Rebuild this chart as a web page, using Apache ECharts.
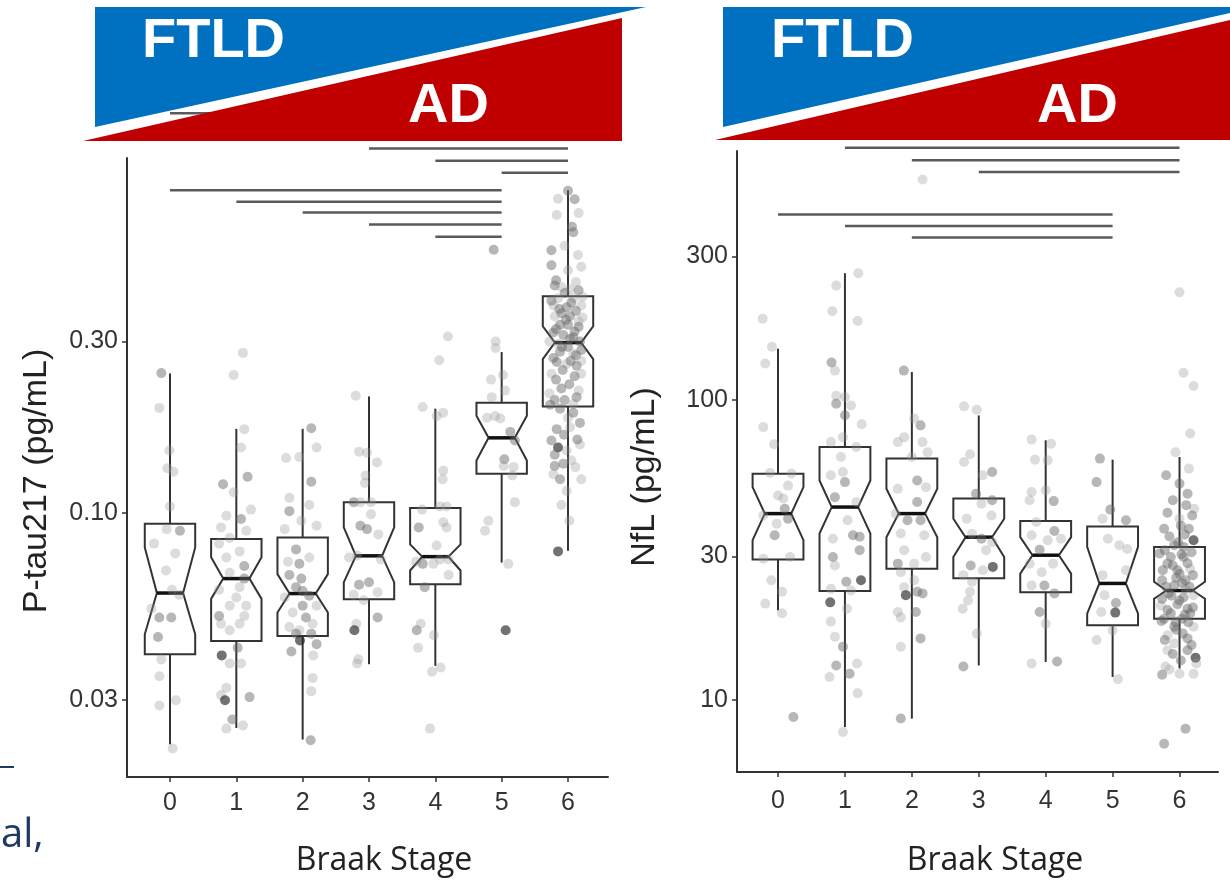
<!DOCTYPE html>
<html>
<head>
<meta charset="utf-8">
<script src="https://cdn.jsdelivr.net/npm/echarts@6/dist/echarts.min.js"></script>
<style>
  html, body { margin: 0; padding: 0; background: #fff; }
  #chart { width: 1230px; height: 880px; }
</style>
</head>
<body>
<div id="chart"></div>
<script>
// ---- data -------------------------------------------------------------
const stages = ['0', '1', '2', '3', '4', '5', '6'];
const ptauTicks = [0.03, 0.1, 0.3];
const nflTicks = [10, 30, 100, 300];

// per Braak stage: [whisker low, Q1, notch low, median, notch high, Q3, whisker high]
const ptauBoxes = [
  [0.0226, 0.0403, 0.0458, 0.0597, 0.0800, 0.0932, 0.2445],
  [0.0251, 0.0439, 0.0575, 0.0655, 0.0751, 0.0844, 0.1713],
  [0.0233, 0.0453, 0.0527, 0.0595, 0.0674, 0.0853, 0.1713],
  [0.0378, 0.0574, 0.0639, 0.0758, 0.0910, 0.1069, 0.2110],
  [0.0374, 0.0632, 0.0690, 0.0754, 0.0816, 0.1030, 0.1950],
  [0.0726, 0.1283, 0.1397, 0.1617, 0.1863, 0.2025, 0.2805],
  [0.0783, 0.1977, 0.2680, 0.2980, 0.3310, 0.4013, 0.7930]
];
const nflBoxes = [
  [19.85, 29.29, 34.0, 41.7, 51.1, 56.66, 147.9],
  [8.1, 23.0, 35.8, 43.85, 53.8, 69.5, 264],
  [8.64, 27.3, 34.8, 41.7, 50.5, 63.6, 123.6],
  [13.0, 25.4, 29.9, 34.8, 40.1, 46.8, 88.6],
  [13.35, 22.8, 26.3, 30.3, 34.8, 39.4, 73.2],
  [11.9, 17.7, 19.35, 24.4, 32.3, 37.8, 63.1],
  [12.7, 18.6, 21.7, 23.1, 24.7, 32.3, 64.4]
];

// pairwise comparisons: [stage from, stage to, bracket height]
const ptauBrackets = [
  [0, 6, 1.30], [3, 6, 1.037], [4, 6, 0.958], [5, 6, 0.887],
  [0, 5, 0.793], [1, 5, 0.736], [2, 5, 0.687], [3, 5, 0.636], [4, 5, 0.588]
];
const nflBrackets = [
  [1, 6, 692], [2, 6, 628], [3, 6, 574],
  [0, 5, 414], [1, 5, 379], [2, 5, 347]
];

// individual cases: [stage, jitter, value, group]
const ptauPoints = [
  [0,-0.13,0.245,1],[0,-0.16,0.196,0],[0,-0.01,0.149,0],[0,-0.04,0.133,0],[0,0.05,0.130,0],[0,0.00,0.104,0],
  [0,0.15,0.089,1],[0,-0.05,0.090,0],[0,-0.24,0.082,0],[0,0.08,0.077,0],[0,-0.06,0.069,0],[0,0.03,0.061,0],
  [0,0.14,0.059,0],[0,-0.28,0.054,0],[0,-0.16,0.051,1],[0,0.02,0.051,1],[0,-0.18,0.045,1],[0,-0.13,0.039,0],
  [0,-0.16,0.035,0],[0,-0.16,0.029,0],[0,0.09,0.030,0],[0,0.04,0.022,0],
  [1,0.10,0.279,0],[1,-0.04,0.242,0],[1,0.12,0.171,0],[1,0.07,0.152,0],[1,-0.20,0.120,1],[1,0.17,0.126,1],
  [1,-0.04,0.114,0],[1,0.22,0.102,0],[1,-0.15,0.098,0],[1,0.07,0.096,1],[1,-0.23,0.091,0],[1,0.15,0.089,0],
  [1,-0.10,0.085,0],[1,-0.26,0.082,0],[1,0.05,0.078,0],[1,-0.15,0.075,0],[1,0.12,0.071,1],[1,-0.10,0.068,0],
  [1,0.12,0.0655,1],[1,-0.26,0.061,0],[1,0.05,0.062,0],[1,0.00,0.058,0],[1,-0.10,0.055,0],[1,0.15,0.055,0],
  [1,-0.26,0.0515,1],[1,0.12,0.0515,0],[1,-0.23,0.049,0],[1,0.05,0.049,0],[1,-0.10,0.047,0],[1,0.02,0.042,1],
  [1,-0.22,0.040,2],[1,0.07,0.038,0],[1,-0.10,0.038,0],[1,-0.15,0.0325,0],[1,-0.23,0.031,0],[1,-0.17,0.030,2],
  [1,0.20,0.0306,1],[1,-0.06,0.0265,1],[1,-0.15,0.025,0],[1,0.10,0.0255,0],
  [2,0.13,0.172,1],[2,0.21,0.152,0],[2,-0.25,0.142,0],[2,-0.05,0.143,0],[2,0.13,0.122,1],[2,-0.20,0.110,0],
  [2,0.10,0.105,0],[2,-0.20,0.101,1],[2,-0.02,0.095,0],[2,0.21,0.092,0],[2,-0.27,0.090,0],[2,-0.10,0.079,1],
  [2,-0.22,0.073,0],[2,-0.05,0.072,1],[2,0.10,0.075,0],[2,-0.20,0.067,1],[2,-0.02,0.0655,1],[2,-0.10,0.062,1],
  [2,0.00,0.0605,1],[2,0.10,0.0587,1],[2,-0.27,0.058,0],[2,0.21,0.055,0],[2,0.00,0.055,1],[2,-0.15,0.0527,0],
  [2,0.05,0.051,1],[2,0.15,0.049,0],[2,-0.20,0.048,0],[2,-0.05,0.047,0],[2,0.13,0.046,1],[2,-0.10,0.046,1],
  [2,-0.04,0.044,2],[2,-0.17,0.041,1],[2,0.21,0.043,1],[2,0.16,0.040,0],[2,0.15,0.0346,0],[2,0.13,0.0318,0],
  [2,0.12,0.0232,1],
  [3,-0.20,0.212,0],[3,-0.15,0.148,0],[3,-0.03,0.147,0],[3,0.12,0.138,0],[3,-0.05,0.127,0],[3,-0.06,0.121,0],
  [3,-0.23,0.107,1],[3,-0.13,0.107,0],[3,0.03,0.107,0],[3,0.03,0.099,0],[3,-0.13,0.092,1],[3,-0.03,0.090,1],
  [3,0.14,0.087,0],[3,-0.30,0.075,0],[3,-0.18,0.076,0],[3,0.18,0.074,0],[3,-0.15,0.063,1],[3,0.00,0.064,1],
  [3,-0.23,0.059,0],[3,0.13,0.060,0],[3,-0.08,0.057,0],[3,-0.19,0.049,0],[3,-0.22,0.047,2],[3,0.13,0.051,1],
  [3,-0.16,0.039,0],[3,-0.18,0.038,0],
  [4,0.19,0.310,0],[4,0.06,0.266,0],[4,-0.19,0.197,0],[4,0.12,0.190,0],[4,0.02,0.186,0],[4,0.12,0.131,0],
  [4,0.11,0.124,0],[4,-0.20,0.102,0],[4,0.17,0.104,0],[4,0.07,0.104,0],[4,-0.25,0.091,1],[4,0.12,0.094,0],
  [4,0.17,0.091,0],[4,0.02,0.081,0],[4,-0.29,0.073,0],[4,-0.19,0.072,1],[4,-0.03,0.072,0],[4,0.07,0.074,0],
  [4,0.20,0.074,0],[4,0.20,0.067,0],[4,-0.16,0.062,1],[4,-0.28,0.047,1],[4,-0.22,0.049,0],[4,-0.26,0.042,0],
  [4,-0.02,0.0455,0],[4,-0.05,0.036,0],[4,0.08,0.037,0],[4,-0.08,0.025,0],
  [5,-0.12,0.541,1],[5,-0.09,0.300,0],[5,-0.09,0.288,0],[5,0.02,0.242,0],[5,-0.16,0.235,0],[5,0.05,0.219,0],
  [5,-0.15,0.210,0],[5,-0.22,0.184,0],[5,-0.10,0.186,0],[5,-0.02,0.183,0],[5,0.13,0.168,1],[5,0.20,0.159,1],
  [5,0.04,0.141,1],[5,0.03,0.135,0],[5,0.18,0.134,0],[5,0.16,0.127,0],[5,0.20,0.107,0],[5,-0.20,0.095,0],
  [5,-0.25,0.089,0],[5,0.10,0.072,0],[5,0.06,0.047,2],
  [6,0.00,0.79,1],[6,-0.15,0.75,0],[6,0.10,0.748,1],[6,-0.17,0.676,0],[6,0.16,0.685,0],[6,0.06,0.627,1],
  [6,0.08,0.605,1],[6,-0.25,0.539,1],[6,-0.05,0.555,0],[6,0.15,0.523,0],[6,-0.25,0.49,1],[6,0.20,0.485,0],
  [6,0.00,0.474,0],[6,-0.20,0.43,1],[6,-0.10,0.426,0],[6,0.03,0.42,0],[6,0.16,0.417,1],[6,-0.15,0.396,0],
  [6,0.08,0.396,0],[6,-0.22,0.378,0],[6,-0.02,0.374,1],[6,0.20,0.378,0],[6,-0.10,0.36,1],[6,-0.20,0.353,0],
  [6,0.03,0.353,1],[6,0.16,0.342,0],[6,-0.12,0.334,1],[6,0.00,0.334,1],[6,-0.22,0.318,1],[6,0.16,0.33,1],
  [6,-0.07,0.313,1],[6,0.08,0.309,1],[6,0.20,0.284,1],[6,0.00,0.29,1],[6,-0.15,0.296,0],[6,-0.12,0.281,1],
  [6,0.08,0.278,0],[6,-0.17,0.263,1],[6,-0.02,0.26,0],[6,0.13,0.257,1],[6,-0.25,0.244,0],[6,0.20,0.244,0],
  [6,-0.10,0.222,1],[6,0.16,0.219,0],[6,-0.20,0.206,1],[6,-0.05,0.206,1],[6,0.08,0.201,0],[6,-0.27,0.200,1],
  [6,0.00,0.184,0],[6,0.18,0.178,1],[6,-0.17,0.171,1],[6,0.03,0.173,0],[6,-0.25,0.159,1],[6,-0.15,0.152,2],
  [6,0.18,0.155,0],[6,-0.02,0.149,0],[6,-0.20,0.135,1],[6,-0.07,0.137,1],[6,0.11,0.134,0],[6,-0.22,0.128,0],
  [6,-0.12,0.124,1],[6,0.20,0.124,0],[6,-0.02,0.115,0],[6,-0.15,0.078,2],
  [6,-0.18,0.445,1],[6,0.12,0.44,0],[6,-0.05,0.41,1],[6,0.22,0.40,0],[6,-0.25,0.39,1],[6,0.05,0.385,1],
  [6,-0.13,0.37,1],[6,0.12,0.365,1],[6,-0.03,0.345,1],[6,0.22,0.35,0],[6,-0.18,0.325,1],[6,0.10,0.32,1],
  [6,-0.28,0.30,0],[6,0.03,0.305,1],[6,0.18,0.30,1],[6,-0.09,0.29,1],[6,0.12,0.275,1],[6,-0.22,0.27,1],
  [6,0.04,0.265,1],[6,0.20,0.265,0],[6,-0.08,0.25,1],[6,0.10,0.24,1],[6,-0.18,0.235,1],[6,0.02,0.228,1],
  [6,-0.28,0.215,0],[6,0.13,0.21,1],[6,-0.12,0.195,1],[6,0.08,0.19,1],[6,-0.06,0.165,1],[6,0.14,0.16,1],
  [6,-0.20,0.145,1],[6,0.05,0.14,0],[6,-0.10,0.105,0],[6,0.02,0.095,0]
];

const nflPoints = [
  [0,-0.23,186,0],[0,-0.09,150,0],[0,-0.19,132,0],[0,-0.22,81,0],[0,-0.06,71,0],[0,-0.12,57,0],
  [0,0.20,56.7,0],[0,0.15,51.7,0],[0,0.00,47.9,0],[0,0.08,46.8,0],[0,0.10,43.3,1],[0,-0.22,41.1,0],
  [0,0.15,40.1,1],[0,-0.02,38.6,0],[0,-0.05,35.3,1],[0,-0.22,29.5,0],[0,0.18,29.9,0],[0,-0.10,25,0],
  [0,0.06,22.9,0],[0,-0.19,20.9,0],[0,0.06,19.4,0],[0,0.23,8.75,1],
  [1,0.20,264,0],[1,-0.13,240,0],[1,-0.19,197,0],[1,0.19,183,0],[1,-0.20,133,1],[1,-0.15,125,0],
  [1,-0.13,103,0],[1,0.00,102,0],[1,0.09,95.7,0],[1,-0.13,97,1],[1,0.00,88.7,1],[1,0.25,82.8,0],
  [1,-0.03,75,0],[1,-0.21,72.2,0],[1,0.17,69.5,0],[1,-0.06,64.4,0],[1,-0.21,56,0],[1,-0.03,57.4,0],
  [1,0.00,53.1,1],[1,-0.15,47.3,1],[1,0.17,45.6,0],[1,0.04,39.6,0],[1,-0.18,34.4,0],[1,0.12,35.3,1],
  [1,0.22,34.9,1],[1,0.22,31.5,1],[1,-0.18,29.9,1],[1,-0.15,28,0],[1,0.24,25,2],[1,0.02,24.7,1],
  [1,-0.21,23.4,0],[1,0.09,23.1,0],[1,-0.22,21.1,2],[1,0.03,20.1,0],[1,-0.21,18.2,0],[1,-0.15,16.2,0],
  [1,-0.03,15,1],[1,-0.13,13,1],[1,-0.23,11.9,0],[1,0.07,12.2,1],[1,0.18,13.2,0],[1,0.19,10.5,0],
  [1,-0.03,7.8,0],
  [2,0.16,542,0],[2,-0.12,125,1],[2,0.035,86.5,0],[2,0.13,82.1,1],[2,-0.21,72.2,0],[2,-0.115,75,0],
  [2,0.16,72.2,0],[2,0.235,66.8,0],[2,0.00,64.4,0],[2,0.08,53.8,1],[2,-0.21,50.5,0],[2,0.21,51.1,0],
  [2,0.08,45.6,1],[2,-0.24,41.7,0],[2,-0.065,39.6,1],[2,0.13,39.6,1],[2,-0.165,35.8,0],[2,0.185,35.3,0],
  [2,-0.115,31.5,0],[2,0.21,29.9,0],[2,-0.21,28.4,1],[2,0.035,28.4,0],[2,-0.165,26.6,0],[2,0.035,25,0],
  [2,-0.115,23.7,0],[2,0.08,22.9,1],[2,-0.09,22.3,2],[2,0.16,22.6,1],[2,0.06,19.6,1],[2,-0.21,19.6,0],
  [2,-0.165,18.8,0],[2,0.13,16,1],[2,-0.165,15,0],[2,-0.165,8.65,1],
  [3,-0.22,95,0],[3,-0.03,92.6,0],[3,-0.13,65.8,0],[3,-0.22,62,0],[3,0.06,56,0],[3,0.20,57.4,1],
  [3,-0.04,48.6,1],[3,0.20,46.2,1],[3,0.04,45,0],[3,-0.18,40.1,0],[3,0.19,41.1,0],[3,-0.10,35.7,0],
  [3,0.04,34.4,1],[3,0.20,33.5,0],[3,0.11,31.5,0],[3,-0.12,28,1],[3,0.21,27.7,2],[3,0.06,27,0],
  [3,-0.23,26,0],[3,-0.10,24.7,0],[3,-0.13,22.9,0],[3,-0.16,21.4,0],[3,-0.24,20.1,0],[3,-0.03,16.6,0],
  [3,-0.23,12.9,1],
  [4,-0.21,73.6,0],[4,0.08,71.3,0],[4,-0.16,63.1,0],[4,0.03,62.8,0],[4,-0.21,49.2,0],[4,-0.24,46.2,0],
  [4,0.00,49.9,0],[4,0.12,45.9,1],[4,-0.14,39.1,0],[4,0.13,36.5,1],[4,-0.21,35.3,0],[4,0.03,34,0],
  [4,0.23,34.4,0],[4,-0.09,31.6,1],[4,0.11,28.4,0],[4,-0.24,28.4,0],[4,-0.06,26.6,0],[4,-0.21,24,0],
  [4,-0.02,24,1],[4,0.13,22.6,1],[4,-0.09,19.6,1],[4,0.00,17.9,0],[4,-0.21,13.2,0],[4,0.17,13.4,1],
  [5,-0.19,63.6,1],[5,-0.24,53.1,1],[5,-0.035,43,1],[5,-0.15,40.1,0],[5,0.20,39.6,1],[5,-0.07,34.4,0],
  [5,0.10,32.7,0],[5,0.22,31.8,0],[5,0.20,27,0],[5,-0.15,26,0],[5,-0.12,22.3,0],[5,0.05,21,1],
  [5,0.04,19.5,2],[5,-0.17,19.6,0],[5,0.00,17,0],[5,-0.24,15.8,0],[5,0.08,11.7,0],
  [6,0.00,228,0],[6,0.06,123,0],[6,0.21,111,0],[6,0.16,77.1,0],[6,-0.06,66.8,0],[6,0.14,58.9,0],
  [6,-0.20,56,1],[6,0.00,52.5,1],[6,0.12,48.6,1],[6,-0.10,46.2,1],[6,0.22,43.3,0],[6,0.00,40.1,0],
  [6,0.19,41.1,1],[6,-0.23,37.1,1],[6,0.14,37.1,1],[6,0.21,34,2],[6,-0.08,32.7,1],[6,0.06,32.3,1],
  [6,-0.30,30.7,1],[6,-0.18,28.4,1],[6,0.00,26.3,1],[6,0.16,27.3,0],[6,-0.26,25,1],[6,-0.08,24,1],
  [6,0.09,23.4,0],[6,-0.16,22.6,1],[6,0.21,22.3,0],[6,0.00,21.4,1],[6,-0.28,20.6,0],[6,0.12,20.1,1],
  [6,-0.13,19.4,1],[6,-0.23,18.6,1],[6,0.04,18.6,1],[6,-0.08,17.5,1],[6,0.21,17.5,0],[6,-0.18,16.4,0],
  [6,0.12,16,1],[6,-0.08,15.4,0],[6,-0.18,14.6,0],[6,0.12,14.6,1],[6,0.24,13.8,2],[6,-0.21,12.9,0],
  [6,-0.26,12.1,1],[6,0.00,12.2,0],[6,0.21,12.2,0],[6,0.09,8.0,1],[6,-0.23,7.13,1],[6,-0.13,29.9,1],
  [6,0.06,29.9,1],[6,-0.03,27,1],[6,0.09,25,1],[6,-0.26,21.7,1],[6,0.16,19.4,1],[6,-0.06,18.2,1],
  [6,-0.15,35,1],[6,0.08,35.5,1],[6,-0.02,33.5,1],[6,0.18,31,1],[6,-0.22,31.5,1],[6,0.03,30.5,1],
  [6,-0.10,28,1],[6,0.12,28.5,1],[6,-0.25,27,1],[6,0.20,26,1],[6,-0.05,25.5,1],[6,0.04,24.5,1],
  [6,-0.20,23.8,1],[6,0.15,23.8,1],[6,-0.12,22.2,1],[6,0.06,21.9,1],[6,-0.03,20.8,1],[6,0.20,20.3,1],
  [6,-0.18,19.9,1],[6,0.08,19.2,1],[6,-0.27,18.3,1],[6,0.13,18.1,1],[6,-0.05,17.1,1],[6,0.05,16.6,1],
  [6,-0.22,15.8,1],[6,0.18,15.2,1],[6,-0.10,14.2,1],[6,0.02,13.5,1],[6,0.25,13.2,0],[6,-0.15,12.6,0],
  [6,0.10,44.5,1],[6,-0.18,42,1],[6,0.02,38,1]
];

// ---- drawing ----------------------------------------------------------
const lg = Math.log10;
const FONT = '"Liberation Sans", Arial, Helvetica, sans-serif';
const INK = '#333333';
const BOX_HALF = 0.38;        // half box width, in stage units
const NOTCH_RATIO = 0.52;     // notch waist relative to box width
const POINT_COLORS = ['rgba(150,150,150,0.42)', 'rgba(105,105,105,0.6)', 'rgba(35,35,35,0.8)'];

function boxSeries(idx, boxes) {
  return {
    type: 'custom', xAxisIndex: idx, yAxisIndex: idx, z: 3, silent: true,
    data: boxes.map((b, i) => [i].concat(b.map(lg))),
    encode: { x: 0, y: [1, 2, 3, 4, 5, 6, 7] },
    renderItem(params, api) {
      const s = api.value(0);
      const nh = BOX_HALF * NOTCH_RATIO;
      const p = (dx, k) => api.coord([s + dx, api.value(k)]);
      // value slots: 1 wLo, 2 q1, 3 nLo, 4 med, 5 nHi, 6 q3, 7 wHi
      const outline = [
        p(-BOX_HALF, 6), p(BOX_HALF, 6), p(BOX_HALF, 5), p(nh, 4), p(BOX_HALF, 3),
        p(BOX_HALF, 2), p(-BOX_HALF, 2), p(-BOX_HALF, 3), p(-nh, 4), p(-BOX_HALF, 5)
      ];
      const seg = (a, b, w, c) => ({
        type: 'line', shape: { x1: a[0], y1: a[1], x2: b[0], y2: b[1] },
        style: { stroke: c || INK, lineWidth: w }
      });
      return {
        type: 'group',
        children: [
          seg(p(0, 6), p(0, 7), 2),
          seg(p(0, 2), p(0, 1), 2),
          { type: 'polygon', shape: { points: outline },
            style: { fill: 'none', stroke: INK, lineWidth: 2, lineJoin: 'miter' } },
          seg(p(-nh, 4), p(nh, 4), 3.5, '#111')
        ]
      };
    }
  };
}

function pointSeries(idx, pts) {
  return {
    type: 'scatter', xAxisIndex: idx, yAxisIndex: idx, z: 4, silent: true,
    symbolSize: 10,
    data: pts.map(([s, j, v, g]) => [s + j, lg(v), g]),
    itemStyle: { color: (p) => POINT_COLORS[p.data[2]] }
  };
}

function bracketSeries(idx, brackets) {
  return {
    type: 'custom', xAxisIndex: idx, yAxisIndex: idx, z: 2, clip: false, silent: true,
    data: brackets.map(([a, b, y]) => [a, b, lg(y)]),
    encode: { x: [0, 1], y: 2 },
    renderItem(params, api) {
      const a = api.coord([api.value(0), api.value(2)]);
      const b = api.coord([api.value(1), api.value(2)]);
      return { type: 'line', shape: { x1: a[0], y1: a[1], x2: b[0], y2: b[1] },
               style: { stroke: '#5a5a5a', lineWidth: 2.5 } };
    }
  };
}

function xAxis(idx, min, max, margin) {
  return {
    gridIndex: idx, type: 'value', min, max,
    axisLine: { onZero: false, lineStyle: { color: INK, width: 2 } },
    axisTick: { length: 5, customValues: stages.map((_, i) => i), lineStyle: { color: INK, width: 1.5 } },
    axisLabel: { customValues: stages.map((_, i) => i), formatter: (v) => stages[Math.round(v)],
                 color: '#333', fontSize: 25, fontFamily: FONT, margin },
    splitLine: { show: false }
  };
}

function yAxis(idx, min, max, ticks, fmt) {
  return {
    gridIndex: idx, type: 'value', min, max,
    axisLine: { onZero: false, lineStyle: { color: INK, width: 2 } },
    axisTick: { length: 5, customValues: ticks.map(lg), lineStyle: { color: INK, width: 1.5 } },
    axisLabel: { customValues: ticks.map(lg), formatter: fmt,
                 color: '#333', fontSize: 25, fontFamily: FONT, margin: 9 },
    splitLine: { show: false }
  };
}

const BLUE = '#0070C0';
const RED = '#C00000';
const bannerText = (text, x, y) => ({
  type: 'text', x, y, z: 101,
  style: { text, fill: '#fff', fontSize: 56, fontWeight: 'bold', fontFamily: FONT, verticalAlign: 'middle' }
});
const title = (text, x, y, rot) => ({
  type: 'text', x, y, rotation: rot || 0, z: 50,
  style: { text, fill: '#222', fontSize: rot ? 34 : 32,
           fontFamily: rot ? FONT : '"Open Sans", ' + FONT,
           align: 'center', verticalAlign: 'middle' }
});

const option = {
  animation: false,
  backgroundColor: '#fff',
  grid: [
    { left: 127, top: 158, width: 481, height: 619, outerBoundsMode: 'none' },
    { left: 737, top: 151, width: 481, height: 621, outerBoundsMode: 'none' }
  ],
  xAxis: [ xAxis(0, -0.648, 6.603, 14), xAxis(1, -0.613, 6.575, 17) ],
  yAxis: [
    yAxis(0, -1.737, -0.011, ptauTicks, (v) => Math.pow(10, v).toFixed(2)),
    yAxis(1, 0.7587, 2.829, nflTicks, (v) => String(Math.round(Math.pow(10, v))))
  ],
  series: [
    bracketSeries(0, ptauBrackets), boxSeries(0, ptauBoxes), pointSeries(0, ptauPoints),
    bracketSeries(1, nflBrackets), boxSeries(1, nflBoxes), pointSeries(1, nflPoints)
  ],
  graphic: [
    // FTLD -> AD wedges above each panel
    { type: 'polygon', z: 100, shape: { points: [[95, 7], [646, 7], [95, 127]] }, style: { fill: BLUE } },
    { type: 'polygon', z: 100, shape: { points: [[83, 141], [622, 18], [622, 141]] }, style: { fill: RED } },
    bannerText('FTLD', 142, 42), bannerText('AD', 408, 107),
    { type: 'polygon', z: 100, shape: { points: [[723, 7], [1230, 7], [1230, 13], [723, 127]] }, style: { fill: BLUE } },
    { type: 'polygon', z: 100, shape: { points: [[715, 140], [1230, 20], [1230, 140]] }, style: { fill: RED } },
    bannerText('FTLD', 771, 42), bannerText('AD', 1037, 107),
    // axis titles
    title('P-tau217 (pg/mL)', 37, 481, Math.PI / 2),
    title('NfL (pg/mL)', 645, 477, Math.PI / 2),
    title('Braak Stage', 384, 861),
    title('Braak Stage', 995, 861),
    // slide citation fragment
    { type: 'line', z: 50, shape: { x1: 0, y1: 767, x2: 14, y2: 767 }, style: { stroke: '#1F3864', lineWidth: 2 } },
    { type: 'text', x: 1, y: 836, z: 50,
      style: { text: 'al,', fill: '#1F3864', fontSize: 40, fontFamily: '"Open Sans", ' + FONT, verticalAlign: 'middle' } }
  ]
};

const chart = echarts.init(document.getElementById('chart'), null, { renderer: 'canvas' });
chart.setOption(option);
</script>
</body>
</html>
